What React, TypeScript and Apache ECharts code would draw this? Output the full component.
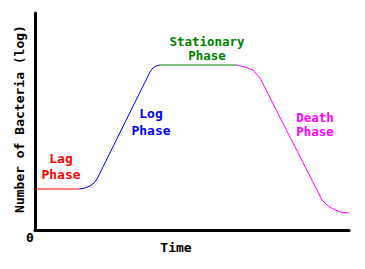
import React, { useEffect, useRef } from "react";
import * as echarts from "echarts";

// Data units: time (x) and log count (y)
const lagPhase: [number, number][] = [
  [0, 41],
  [44, 41],
];
const logPhase: [number, number][] = [
  [44, 41],
  [50, 42],
  [55, 44],
  [59, 47],
  [62, 51],
  [115, 158],
  [118, 162],
  [121, 164],
  [125, 165],
];
const stationaryPhase: [number, number][] = [
  [125, 165],
  [202, 165],
];
const deathPhase: [number, number][] = [
  [202, 165],
  [210, 163],
  [218, 160],
  [225, 152],
  [287, 30],
  [292, 25],
  [298, 21],
  [305, 18],
  [314, 17],
];

const X_MAX = 314;
const Y_MAX = 217;

const FONT = "DejaVu Sans Mono";

export default function App() {
  const ref = useRef<HTMLDivElement>(null);
  useEffect(() => {
    if (!ref.current) return;
    const chart = echarts.init(ref.current, undefined, { renderer: "svg" });
    const line = (data: [number, number][], color: string) => ({
      type: "line",
      data,
      showSymbol: false,
      symbol: "none",
      lineStyle: { color, width: 1 },
      silent: true,
    });
    const txt = (
      x: number,
      y: number,
      text: string,
      color: string,
      lineHeight = 13,
      size = 13
    ) => ({
      type: "text",
      x,
      y,
      style: {
        text,
        fill: color,
        font: `bold ${size}px "${FONT}"`,
        lineHeight,
        align: "center",
        verticalAlign: "middle",
      },
    });
    chart.setOption({
      animation: false,
      backgroundColor: "#ffffff",
      grid: { left: 35, top: 13, width: 314, height: 217, containLabel: false },
      xAxis: {
        type: "value",
        min: 0,
        max: X_MAX,
        axisLine: { show: true, lineStyle: { color: "#000", width: 3 } },
        axisTick: { show: false },
        axisLabel: { show: false },
        splitLine: { show: false },
      },
      yAxis: {
        type: "value",
        min: 0,
        max: Y_MAX,
        axisLine: { show: true, lineStyle: { color: "#000", width: 3 } },
        axisTick: { show: false },
        axisLabel: { show: false },
        splitLine: { show: false },
      },
      series: [
        line(lagPhase, "#ff0000"),
        line(logPhase, "#0000ff"),
        line(stationaryPhase, "#008000"),
        line(deathPhase, "#ff00ff"),
      ],
      graphic: [
        txt(61, 166, "Lag\nPhase", "#ff0000", 16),
        txt(151, 121.5, "Log\nPhase", "#0000ff", 17),
        txt(207, 48.5, "Stationary\nPhase", "#008000", 14, 12.5),
        txt(315, 124.5, "Death\nPhase", "#ff00ff", 14, 12.5),
        txt(30, 237, "0", "#000000"),
        txt(176, 247, "Time", "#000000"),
        {
          type: "text",
          x: 19,
          y: 119,
          rotation: Math.PI / 2,
          style: {
            text: "Number of Bacteria (log)",
            fill: "#000",
            font: `bold 13px "${FONT}"`,
            align: "center",
            verticalAlign: "middle",
          },
        },
      ],
    });
    return () => chart.dispose();
  }, []);
  return <div ref={ref} style={{ width: 365, height: 269, position: "absolute", left: 0, top: 0 }} />;
}
